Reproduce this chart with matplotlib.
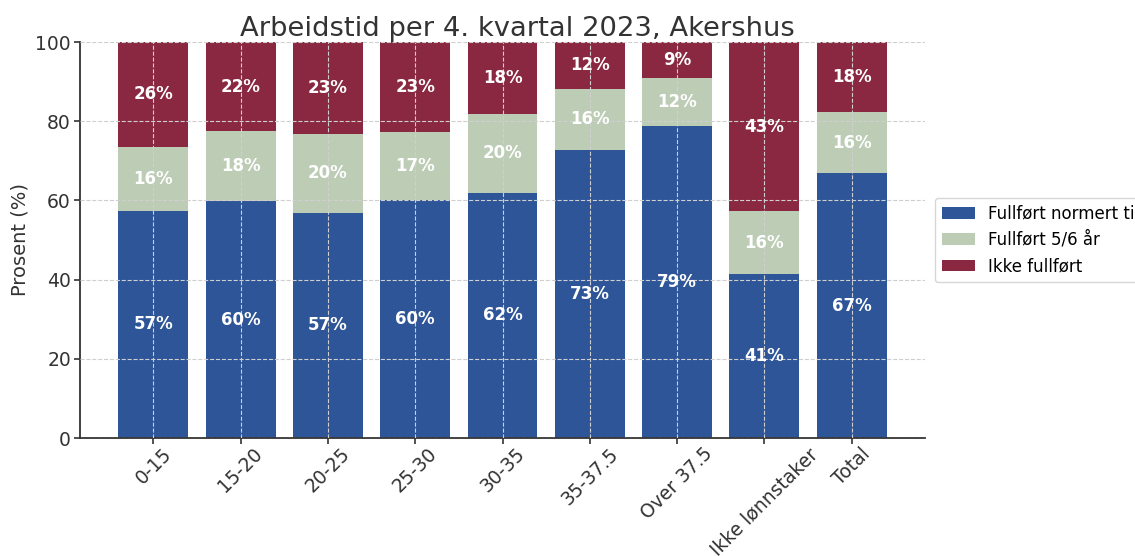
import matplotlib
matplotlib.use("Agg")
import matplotlib.pyplot as plt
import numpy as np

categories = ["0-15", "15-20", "20-25", "25-30", "30-35", "35-37.5", "Over 37.5", "Ikke lønnstaker", "Total"]
fullfort_normert = [57.4, 59.8, 56.9, 60.1, 61.9, 72.7, 78.8, 41.4, 66.8]
fullfort_56 = [16.1, 17.7, 19.9, 17.2, 19.9, 15.5, 12.2, 15.8, 15.5]
ikke_fullfort = [26.5, 22.5, 23.2, 22.7, 18.2, 11.8, 9.0, 42.8, 17.7]
series_names = ["Fullført normert tid", "Fullført 5/6 år", "Ikke fullført"]
colors = ["#2E5597", "#BCCCB5", "#8A2842"]

plt.rcParams['font.family'] = ['DejaVu Sans']
fig = plt.figure(figsize=(11.35, 5.56), dpi=100)
ax = fig.add_axes([80/1135, 1-438/556, 845/1135, 396/556])

x = np.arange(len(categories))
series = [fullfort_normert, fullfort_56, ikke_fullfort]
bottom = np.zeros(len(categories))
for vals, name, c in zip(series, series_names, colors):
    vals = np.array(vals)
    ax.bar(x, vals, 0.8, bottom=bottom, color=c, label=name)
    for xi, b, v in zip(x, bottom, vals):
        ax.text(xi, b + v/2, f"{v:.0f}%", ha='center', va='center', color='white',
                fontsize=12, fontweight='bold')
    bottom += vals

ax.set_ylim(0, 100)
ax.set_xticks(x)
ax.set_xticklabels(categories, rotation=45, fontsize=13.5, color='#333333')
ax.tick_params(axis='y', labelsize=13.5, labelcolor='#333333', pad=2.5)
ax.tick_params(axis='x', pad=0.5)
ax.tick_params(axis='both', length=4, width=1.2, color='#333333')
ax.set_ylabel("Prosent (%)", fontsize=14, color='#333333')
ax.set_title("Arbeidstid per 4. kvartal 2023, Akershus", fontsize=19.7, color='#333333',
             pad=1.5, x=0.518)
ax.grid(True, linestyle='--', color='#cfcfcf', linewidth=0.8)
ax.set_axisbelow(False)
for s in ['top', 'right']:
    ax.spines[s].set_visible(False)
for s in ['left', 'bottom']:
    ax.spines[s].set_linewidth(1.3)
    ax.spines[s].set_color('#333333')

ax.legend(loc='center left', bbox_to_anchor=(1.002, 0.5), fontsize=12, frameon=True)

fig.savefig("out.png", dpi=100)
